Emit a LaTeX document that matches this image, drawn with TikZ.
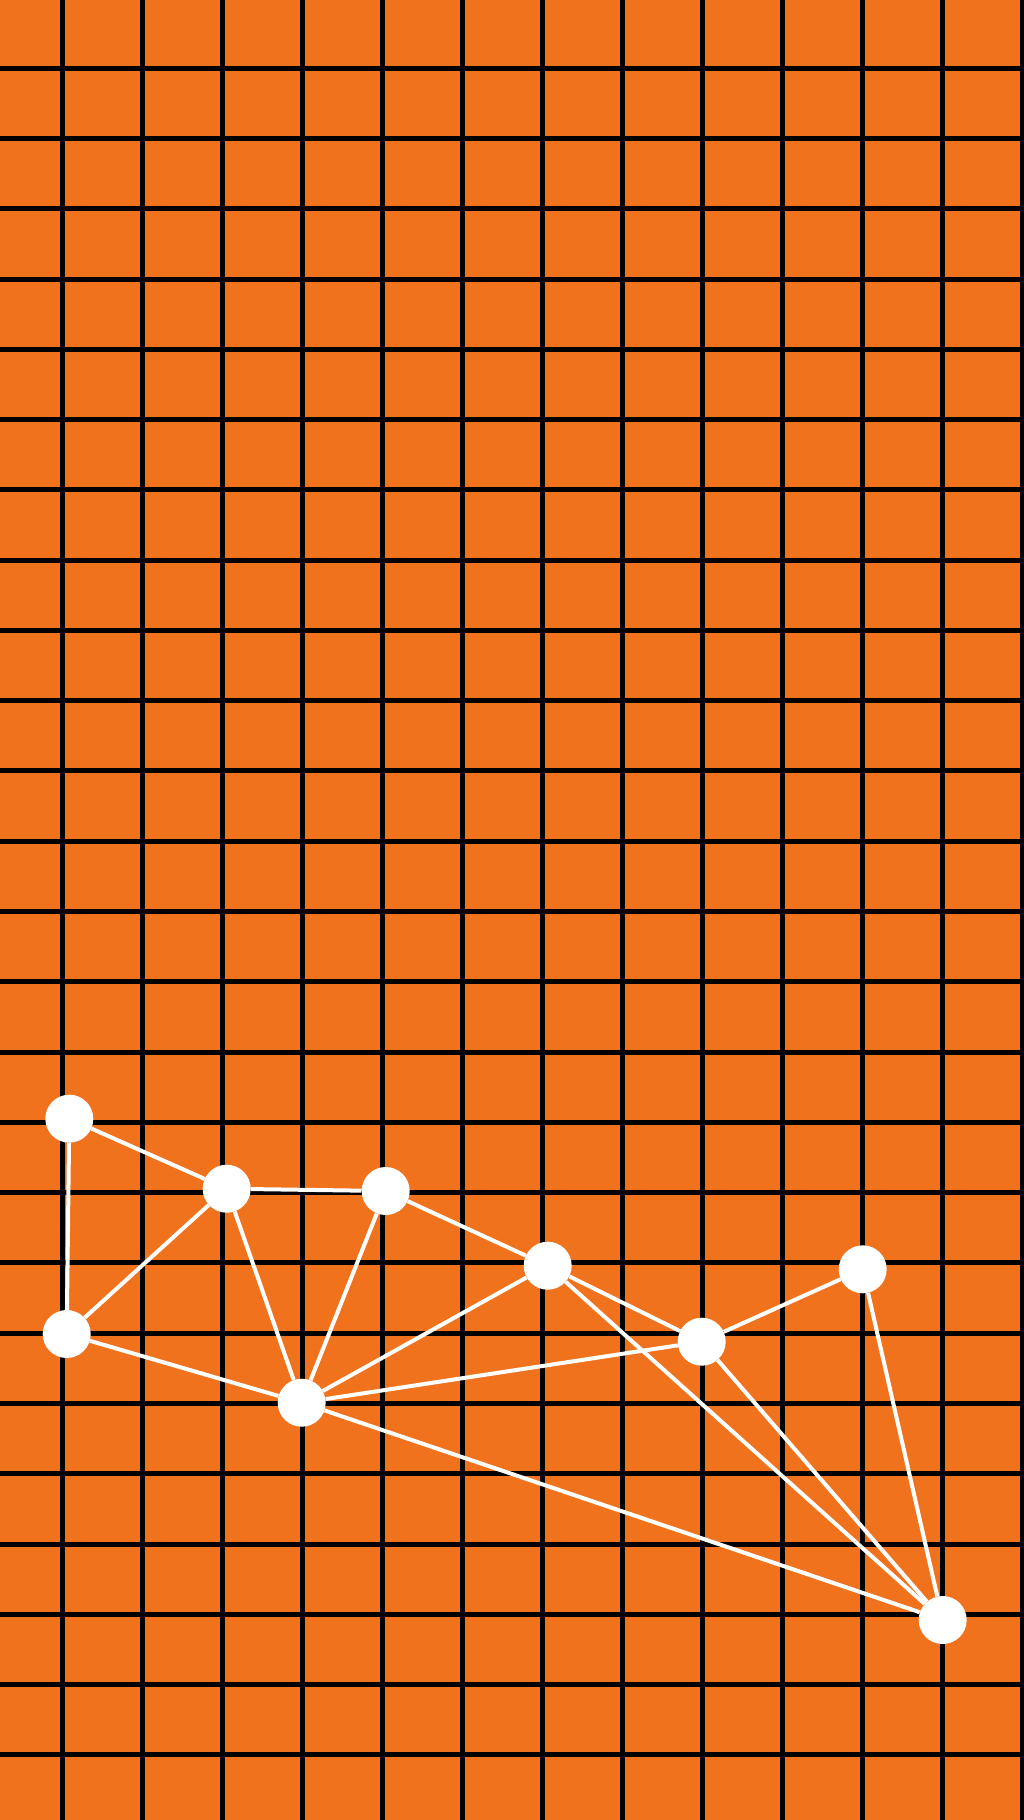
\documentclass[tikz,border=0pt]{standalone}
\definecolor{bgorange}{RGB}{240,114,28}
\begin{document}
\begin{tikzpicture}[x=1pt,y=-1pt,
  gridline/.style={black,line width=5pt},
  edge/.style={white,line width=4pt},
  dot/.style={circle,fill=white,minimum size=48pt,inner sep=0pt}]
\useasboundingbox (0,0) rectangle (1024,1820);
\fill[bgorange] (0,0) rectangle (1024,1820);
\begin{scope}
\clip (0,0) rectangle (1024,1820);
\foreach \i in {0,...,12} \draw[gridline] ({62.8+80*\i},0) -- ({62.8+80*\i},1820);
\foreach \j in {0,...,25} \draw[gridline] (0,{-2.1+70.28*\j}) -- (1024,{-2.1+70.28*\j});
\end{scope}
\node[dot] (a) at (69.3,1118.7) {};
\node[dot] (b) at (226.7,1188.7) {};
\node[dot] (c) at (385.7,1191) {};
\node[dot] (d) at (66.7,1334) {};
\node[dot] (e) at (301.7,1402.7) {};
\node[dot] (f) at (547.7,1265.7) {};
\node[dot] (g) at (701.7,1341.7) {};
\node[dot] (h) at (862.7,1269.3) {};
\node[dot] (i) at (942.7,1620) {};
\draw[edge] (a) -- (b);
\draw[edge] (a) -- (d);
\draw[edge] (b) -- (c);
\draw[edge] (b) -- (d);
\draw[edge] (b) -- (e);
\draw[edge] (c) -- (e);
\draw[edge] (c) -- (f);
\draw[edge] (d) -- (e);
\draw[edge] (e) -- (f);
\draw[edge] (e) -- (g);
\draw[edge] (e) -- (i);
\draw[edge] (f) -- (g);
\draw[edge] (f) -- (i);
\draw[edge] (g) -- (h);
\draw[edge] (g) -- (i);
\draw[edge] (h) -- (i);
\end{tikzpicture}
\end{document}
